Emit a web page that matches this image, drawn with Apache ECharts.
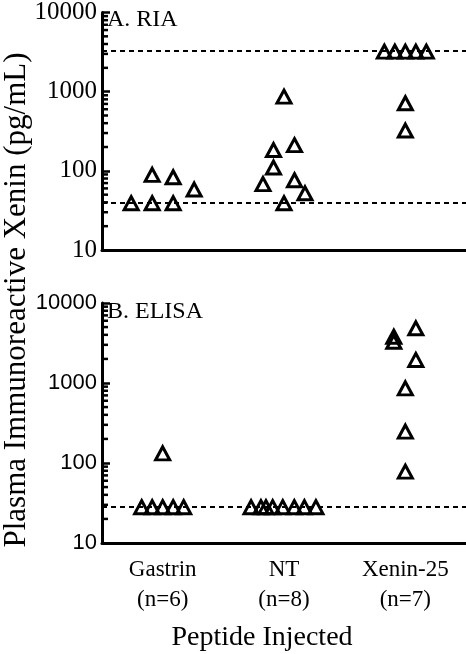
<!DOCTYPE html>
<html>
<head>
<meta charset="utf-8">
<script src="https://cdn.jsdelivr.net/npm/echarts@6/dist/echarts.min.js"></script>
<style>
    html, body { margin: 0; padding: 0; background: #fff; }
    #main { width: 466px; height: 654px; }
</style>
</head>
<body>
<div id="main"></div>
<script>
// categories on the x axis
var categories = ['Gastrin\n(n=6)', 'NT\n(n=8)', 'Xenin-25\n(n=7)'];

// A. RIA values (pg/mL)
var riaGastrin = [39, 89, 39, 83, 39, 58];
var riaNT = [866, 183, 211, 110, 68, 76, 39, 52];
var riaXenin = [3200, 3200, 3200, 3200, 3200, 714, 323];
var riaLimits = [40, 3300];

// B. ELISA values (pg/mL)
var elisaGastrin = [28, 28, 28, 28, 28, 132];
var elisaNT = [28, 28, 28, 28, 28, 28, 28, 28];
var elisaXenin = [3790, 3280, 4830, 1940, 858, 247, 78];
var elisaLimits = [28];

// y tick labels
var yTicks = [10, 100, 1000, 10000];

// horizontal spread of points inside a column (in symbol widths)
var riaGastrinSpread = [-1.5, -0.5, -0.5, 0.5, 0.5, 1.5];
var riaNTSpread = [0, -0.5, 0.5, -0.5, -1, 0.5, 0, 1];
var riaXeninSpread = [-1, -0.5, 0, 0.5, 1, 0, 0];
var elisaGastrinSpread = [-1, -0.5, 0, 0.5, 1, 0];
var elisaNTSpread = [-1.57, -1.1, -0.86, -0.54, -0.06, 0.49, 0.97, 1.52];
var elisaXeninSpread = [-0.55, -0.55, 0.5, 0.5, 0, 0, 0];

var SLOT = 0.173;
var SERIF = 'Liberation Serif';
var SANS = 'Liberation Sans';

function columnPoints(colIndex, values, spread) {
    var pts = [];
    for (var i = 0; i < values.length; i++) {
        pts.push([colIndex + spread[i] * SLOT, values[i]]);
    }
    return pts;
}

// log minor ticks 20..90, 200..900, 2000..9000
function minorTicks() {
    var out = [];
    for (var d = 10; d < 10000; d *= 10) {
        for (var k = 2; k <= 9; k++) {
            out.push([-0.5, d * k]);
        }
    }
    return out;
}

function catAxis(grid, showLabel) {
    return {
        gridIndex: grid,
        type: 'category',
        data: categories,
        boundaryGap: true,
        axisLine: { onZero: false, lineStyle: { color: '#000', width: 3 } },
        axisTick: { alignWithLabel: true, length: 8, lineStyle: { color: '#000', width: 2.5 } },
        axisLabel: {
            show: showLabel,
            color: '#000',
            fontFamily: SERIF,
            fontSize: 23,
            lineHeight: 30,
            margin: 12,
            interval: 0
        },
        splitLine: { show: false }
    };
}

function posAxis(grid) {
    return { gridIndex: grid, type: 'value', min: -0.5, max: 2.5, show: false };
}

function logAxis(grid, font, size) {
    return {
        gridIndex: grid,
        type: 'log',
        logBase: 10,
        min: 10,
        max: 10000,
        axisLine: { show: true, onZero: false, lineStyle: { color: '#000', width: 3 } },
        axisTick: { show: true, inside: true, length: 8, lineStyle: { color: '#000', width: 2.5 } },
        axisLabel: {
            color: '#000',
            fontFamily: font,
            fontSize: size,
            margin: 5,
            formatter: function (v) {
                return yTicks.indexOf(Math.round(v)) >= 0 ? String(Math.round(v)) : '';
            }
        },
        splitLine: { show: false }
    };
}

function limitLines(values) {
    return {
        silent: true,
        symbol: ['none', 'none'],
        label: { show: false },
        animation: false,
        lineStyle: { color: '#000', width: 2, type: [5, 4] },
        data: values.map(function (v) { return { yAxis: v }; })
    };
}

function pointSeries(xi, yi, data, lines) {
    var s = {
        type: 'scatter',
        xAxisIndex: xi,
        yAxisIndex: yi,
        symbol: 'triangle',
        symbolSize: [14, 13],
        itemStyle: { color: 'rgba(0,0,0,0)', borderColor: '#000', borderWidth: 3, opacity: 1 },
        data: data,
        clip: false,
        animation: false
    };
    if (lines) s.markLine = limitLines(lines);
    return s;
}

function minorSeries(xi, yi) {
    return {
        type: 'scatter',
        xAxisIndex: xi,
        yAxisIndex: yi,
        symbol: 'rect',
        symbolSize: [6, 2.5],
        symbolOffset: [3, 0],
        itemStyle: { color: '#000', opacity: 1 },
        data: minorTicks(),
        clip: false,
        silent: true,
        animation: false
    };
}

var myChart = echarts.init(document.getElementById('main'), null, { renderer: 'canvas' });

var option = {
    backgroundColor: '#fff',
    animation: false,
    grid: [
        { left: 102, right: 0, top: 10, height: 240 },
        { left: 102, right: 0, top: 303, height: 240 }
    ],
    xAxis: [catAxis(0, false), posAxis(0), catAxis(1, true), posAxis(1)],
    yAxis: [logAxis(0, SERIF, 25), logAxis(1, SANS, 22)],
    series: [
        minorSeries(1, 0),
        minorSeries(3, 1),
        pointSeries(1, 0, columnPoints(0, riaGastrin, riaGastrinSpread), riaLimits),
        pointSeries(1, 0, columnPoints(1, riaNT, riaNTSpread)),
        pointSeries(1, 0, columnPoints(2, riaXenin, riaXeninSpread)),
        pointSeries(3, 1, columnPoints(0, elisaGastrin, elisaGastrinSpread), elisaLimits),
        pointSeries(3, 1, columnPoints(1, elisaNT, elisaNTSpread)),
        pointSeries(3, 1, columnPoints(2, elisaXenin, elisaXeninSpread))
    ],
    graphic: [
        {
            type: 'text', x: 17, y: 300, rotation: Math.PI / 2,
            style: {
                text: 'Plasma Immunoreactive Xenin (pg/mL)',
                fontFamily: SERIF, fontSize: 31, fill: '#000',
                align: 'center', verticalAlign: 'middle'
            }
        },
        {
            type: 'text', x: 262, y: 638,
            style: {
                text: 'Peptide Injected',
                fontFamily: SERIF, fontSize: 28, fill: '#000',
                align: 'center', verticalAlign: 'middle'
            }
        },
        {
            type: 'text', x: 107, y: 20,
            style: { text: 'A. RIA', fontFamily: SERIF, fontSize: 24, fill: '#000', align: 'left', verticalAlign: 'middle' }
        },
        {
            type: 'text', x: 107, y: 312,
            style: { text: 'B. ELISA', fontFamily: SERIF, fontSize: 24, fill: '#000', align: 'left', verticalAlign: 'middle' }
        }
    ]
};

myChart.setOption(option);
</script>
</body>
</html>
